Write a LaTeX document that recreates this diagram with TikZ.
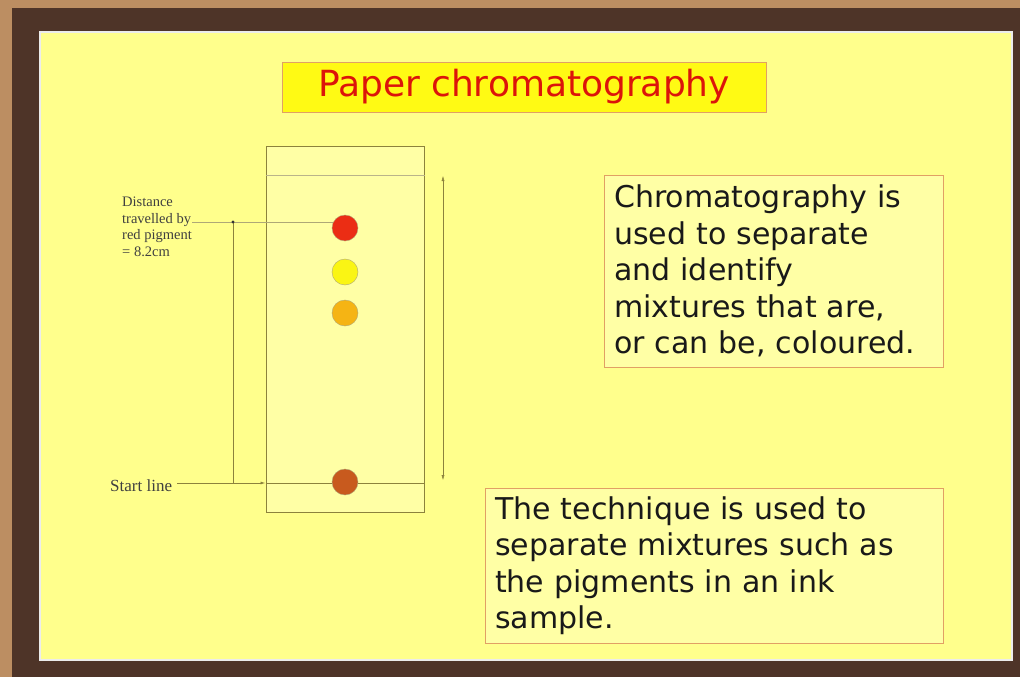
\documentclass[tikz,border=0pt]{standalone}
\usepackage{fontspec}
\setmainfont{Liberation Serif}
\newfontfamily\slidefont{DejaVu Sans}
\usetikzlibrary{arrows.meta}
\definecolor{wood}{RGB}{188,142,98}
\definecolor{frame}{RGB}{78,52,40}
\definecolor{panel}{RGB}{255,255,140}
\definecolor{titlefill}{RGB}{255,250,20}
\definecolor{boxfill}{RGB}{255,255,165}
\definecolor{boxline}{RGB}{225,160,100}
\definecolor{stripline}{RGB}{140,130,60}
\definecolor{redspot}{RGB}{235,45,20}
\definecolor{yellowspot}{RGB}{250,245,20}
\definecolor{orangespot}{RGB}{245,180,20}
\definecolor{brownspot}{RGB}{200,90,30}
\definecolor{titlered}{RGB}{220,20,10}
\tikzset{
  textbox/.style={draw=boxline, fill=boxfill, align=left, anchor=north west, inner xsep=10pt, inner ysep=4pt,
    font=\slidefont\fontsize{30}{36.5}\selectfont, text=black!90},
  spot/.style={circle, draw=stripline!70, minimum size=26pt, inner sep=0pt},
  smalllbl/.style={font=\fontsize{14.5}{16.5}\selectfont, text=black!75, align=left, inner sep=0pt},
  guide/.style={draw=stripline, line width=0.8pt}
}
\begin{document}
\begin{tikzpicture}[x=1pt, y=-1pt]
\useasboundingbox (0,0) rectangle (1020,677);
\fill[wood] (0,0) rectangle (1020,677);
\fill[frame] (12,8) rectangle (1020,677);
\fill[panel, draw=white!85!gray, line width=2pt] (40,32) rectangle (1012,660);

\node[draw=boxline, fill=titlefill, minimum width=484pt, minimum height=50pt, inner sep=0pt,
  font=\slidefont\fontsize{36}{40}\selectfont, text=titlered] (title) at (524,87) {Paper chromatography};

\node[draw=stripline, fill=boxfill, line width=1pt, minimum width=158pt, minimum height=366pt, inner sep=0pt] (strip) at (345,329) {};
\coordinate (front) at (345,175);
\coordinate (base) at (345,483);
\draw[stripline!60] (front -| strip.west) -- (front -| strip.east);
\draw[guide] (base -| strip.west) -- (base -| strip.east);

\node[smalllbl, anchor=north west] (distlbl) at (122,197) {Distance\\travelled by\\red pigment\\= 8.2cm};
\coordinate (dtop) at (233,222);
\coordinate (dbot) at (233,483);
\draw[stripline!70] (dtop -| distlbl.east) -- (dtop -| base);
\draw[guide] (dtop) -- (dbot);
\fill[black!80] (dtop) circle (1.6pt);

\node[spot, fill=redspot] (red) at (345,228) {};
\node[spot, fill=yellowspot] (yellow) at (345,272) {};
\node[spot, fill=orangespot] (orange) at (345,313) {};
\node[spot, fill=brownspot] (brown) at (345,482) {};

\coordinate (arrtop) at (443,176);
\coordinate (arrbot) at (443,480);
\draw[stripline, {Latex[length=5pt,width=3pt]}-{Latex[length=5pt,width=3pt]}] (arrtop) -- (arrbot);

\node[smalllbl, font=\fontsize{17}{20}\selectfont, anchor=west] (startlbl) at (110,486) {Start line};
\draw[guide, -{Latex[length=5pt,width=3pt]}] (startlbl.east) ++(5,-3) coordinate (sl) (sl) -- (sl -| strip.west);

\fill[yellow, opacity=0.55] (628,295) circle (20pt);

\node[textbox, minimum width=339pt, minimum height=192pt, text width=319pt] (info1) at (604,175)
  {Chromatography is\\used to separate\\and identify\\mixtures that are,\\or can be, coloured.};
\node[textbox, minimum width=458pt, minimum height=155pt, text width=438pt] (info2) at (485,488)
  {The technique is used to\\separate mixtures such as\\the pigments in an ink\\sample.};
\end{tikzpicture}
\end{document}
